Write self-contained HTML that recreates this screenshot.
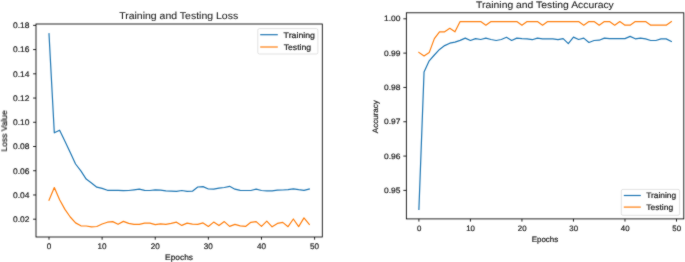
<!DOCTYPE html>
<html><head><meta charset="utf-8"><style>
html,body{margin:0;padding:0;background:#fff;}
body{width:685px;height:262px;overflow:hidden;}
svg{display:block;}
#w{width:685px;height:262px;}
text{font-family:"Liberation Sans", sans-serif;fill:#1a1a1a;stroke:#1a1a1a;stroke-width:0.2px;text-rendering:geometricPrecision;}
</style></head><body>
<div id="w">
<svg width="685" height="262" viewBox="0 0 685 262">
<defs><filter id="soft" color-interpolation-filters="sRGB" x="0" y="0" width="685" height="262" filterUnits="userSpaceOnUse"><feConvolveMatrix order="3" kernelMatrix="1 2 1 2 22 2 1 2 1" divisor="34" edgeMode="duplicate" preserveAlpha="false"/></filter></defs>
<g filter="url(#soft)">
<rect x="0" y="0" width="685" height="262" fill="#fff"/>

<polyline points="49.00,33.70 54.31,132.80 59.62,130.20 64.94,141.20 70.25,152.40 75.56,164.00 80.87,170.90 86.18,179.10 91.50,183.00 96.81,187.20 102.12,188.40 107.43,190.30 112.74,190.30 118.06,190.30 123.37,190.70 128.68,190.50 133.99,189.90 139.30,189.20 144.62,190.30 149.93,190.50 155.24,189.80 160.55,190.10 165.86,190.90 171.18,191.20 176.49,191.40 181.80,190.50 187.11,191.40 192.42,191.20 197.74,187.00 203.05,186.60 208.36,189.00 213.67,189.20 218.98,188.10 224.30,187.50 229.61,186.30 234.92,189.20 240.23,190.30 245.54,190.50 250.86,190.50 256.17,189.20 261.48,190.50 266.79,190.80 272.10,190.80 277.42,190.10 282.73,190.00 288.04,189.70 293.35,188.90 298.66,189.70 303.98,190.30 309.29,189.00" fill="none" stroke="#1f77b4" stroke-width="1.2" stroke-linejoin="round" stroke-linecap="square"/>
<polyline points="49.00,200.30 54.31,187.60 59.62,199.80 64.94,209.40 70.25,217.00 75.56,222.90 80.87,225.80 86.18,226.00 91.50,226.90 96.81,226.50 102.12,224.00 107.43,222.20 112.74,221.60 118.06,224.30 123.37,221.40 128.68,223.40 133.99,224.30 139.30,224.30 144.62,223.10 149.93,223.20 155.24,224.70 160.55,223.80 165.86,224.40 171.18,223.40 176.49,222.20 181.80,225.40 187.11,223.10 192.42,224.10 197.74,224.30 203.05,222.90 208.36,226.50 213.67,222.10 218.98,225.60 224.30,221.60 229.61,226.40 234.92,224.40 240.23,225.80 245.54,226.40 250.86,222.30 256.17,221.60 261.48,226.40 266.79,221.10 272.10,226.80 277.42,223.40 282.73,222.40 288.04,226.70 293.35,219.00 298.66,226.60 303.98,217.90 309.29,224.30" fill="none" stroke="#ff7f0e" stroke-width="1.2" stroke-linejoin="round" stroke-linecap="square"/>
<rect x="36.0" y="24.0" width="286.30" height="213.00" fill="none" stroke="#000" stroke-width="0.85"/>
<line x1="33.10" y1="219.20" x2="36.0" y2="219.20" stroke="#000" stroke-width="0.85"/>
<text x="13.0" y="222.10" font-size="8.1" textLength="16.4" lengthAdjust="spacingAndGlyphs">0.02</text>
<line x1="33.10" y1="194.97" x2="36.0" y2="194.97" stroke="#000" stroke-width="0.85"/>
<text x="13.0" y="197.87" font-size="8.1" textLength="16.4" lengthAdjust="spacingAndGlyphs">0.04</text>
<line x1="33.10" y1="170.74" x2="36.0" y2="170.74" stroke="#000" stroke-width="0.85"/>
<text x="13.0" y="173.64" font-size="8.1" textLength="16.4" lengthAdjust="spacingAndGlyphs">0.06</text>
<line x1="33.10" y1="146.51" x2="36.0" y2="146.51" stroke="#000" stroke-width="0.85"/>
<text x="13.0" y="149.41" font-size="8.1" textLength="16.4" lengthAdjust="spacingAndGlyphs">0.08</text>
<line x1="33.10" y1="122.28" x2="36.0" y2="122.28" stroke="#000" stroke-width="0.85"/>
<text x="13.0" y="125.18" font-size="8.1" textLength="16.4" lengthAdjust="spacingAndGlyphs">0.10</text>
<line x1="33.10" y1="98.05" x2="36.0" y2="98.05" stroke="#000" stroke-width="0.85"/>
<text x="13.0" y="100.95" font-size="8.1" textLength="16.4" lengthAdjust="spacingAndGlyphs">0.12</text>
<line x1="33.10" y1="73.82" x2="36.0" y2="73.82" stroke="#000" stroke-width="0.85"/>
<text x="13.0" y="76.72" font-size="8.1" textLength="16.4" lengthAdjust="spacingAndGlyphs">0.14</text>
<line x1="33.10" y1="49.59" x2="36.0" y2="49.59" stroke="#000" stroke-width="0.85"/>
<text x="13.0" y="52.49" font-size="8.1" textLength="16.4" lengthAdjust="spacingAndGlyphs">0.16</text>
<line x1="33.10" y1="25.36" x2="36.0" y2="25.36" stroke="#000" stroke-width="0.85"/>
<text x="13.0" y="28.26" font-size="8.1" textLength="16.4" lengthAdjust="spacingAndGlyphs">0.18</text>
<line x1="49.00" y1="237.0" x2="49.00" y2="239.70" stroke="#000" stroke-width="0.85"/>
<text x="49.00" y="249.1" font-size="8.1" text-anchor="middle">0</text>
<line x1="102.12" y1="237.0" x2="102.12" y2="239.70" stroke="#000" stroke-width="0.85"/>
<text x="102.12" y="249.1" font-size="8.1" text-anchor="middle">10</text>
<line x1="155.24" y1="237.0" x2="155.24" y2="239.70" stroke="#000" stroke-width="0.85"/>
<text x="155.24" y="249.1" font-size="8.1" text-anchor="middle">20</text>
<line x1="208.36" y1="237.0" x2="208.36" y2="239.70" stroke="#000" stroke-width="0.85"/>
<text x="208.36" y="249.1" font-size="8.1" text-anchor="middle">30</text>
<line x1="261.48" y1="237.0" x2="261.48" y2="239.70" stroke="#000" stroke-width="0.85"/>
<text x="261.48" y="249.1" font-size="8.1" text-anchor="middle">40</text>
<line x1="314.60" y1="237.0" x2="314.60" y2="239.70" stroke="#000" stroke-width="0.85"/>
<text x="314.60" y="249.1" font-size="8.1" text-anchor="middle">50</text>
<text x="119.2" y="19.1" style="stroke-width:0.08px" font-size="9.9" textLength="119" lengthAdjust="spacingAndGlyphs">Training and Testing Loss</text>
<text x="165.1" y="259.5" font-size="8.1" textLength="27.9" lengthAdjust="spacingAndGlyphs">Epochs</text>
<text transform="translate(7.0,151.5) rotate(-90)" x="0" y="0" font-size="8.4" textLength="41.3" lengthAdjust="spacingAndGlyphs">Loss Value</text>
<rect x="257.8" y="28.6" width="60.1" height="25.4" rx="1.6" ry="1.6" fill="#fff" fill-opacity="0.8" stroke="#cccccc" stroke-width="0.6"/>
<line x1="260.2" y1="34.7" x2="277.8" y2="34.7" stroke="#1f77b4" stroke-width="1.2"/>
<line x1="260.2" y1="47.0" x2="277.8" y2="47.0" stroke="#ff7f0e" stroke-width="1.2"/>
<text x="283.6" y="37.7" font-size="8.1" textLength="31.4" lengthAdjust="spacingAndGlyphs">Training</text>
<text x="283.7" y="49.6" font-size="8.1" textLength="27.5" lengthAdjust="spacingAndGlyphs">Testing</text>
<polyline points="418.90,209.30 424.05,72.10 429.20,60.80 434.36,55.00 439.51,49.40 444.66,45.60 449.81,43.20 454.96,42.10 460.12,40.40 465.27,38.10 470.42,40.50 475.57,38.60 480.72,39.50 485.88,38.10 491.03,39.50 496.18,40.50 501.33,39.50 506.48,37.30 511.64,40.50 516.79,38.10 521.94,38.60 527.09,38.90 532.24,39.70 537.40,38.10 542.55,38.90 547.70,38.90 552.85,38.90 558.00,39.70 563.16,38.60 568.31,43.60 573.46,37.10 578.61,39.50 583.76,38.10 588.92,42.50 594.07,40.50 599.22,40.20 604.37,38.10 609.52,38.60 614.68,38.60 619.83,38.60 624.98,38.60 630.13,36.40 635.28,38.80 640.44,38.10 645.59,38.90 650.74,40.50 655.89,40.50 661.04,38.90 666.20,38.90 671.35,41.50" fill="none" stroke="#1f77b4" stroke-width="1.2" stroke-linejoin="round" stroke-linecap="square"/>
<polyline points="418.90,52.40 424.05,55.90 429.20,52.60 434.36,38.60 439.51,31.80 444.66,31.80 449.81,28.30 454.96,31.80 460.12,21.60 465.27,21.60 470.42,21.60 475.57,21.60 480.72,21.60 485.88,25.20 491.03,21.60 496.18,21.60 501.33,21.60 506.48,21.60 511.64,21.60 516.79,21.60 521.94,25.20 527.09,21.60 532.24,21.60 537.40,21.60 542.55,25.20 547.70,21.60 552.85,21.60 558.00,21.60 563.16,21.60 568.31,21.60 573.46,21.60 578.61,21.60 583.76,25.20 588.92,21.60 594.07,21.60 599.22,25.20 604.37,21.60 609.52,21.60 614.68,25.20 619.83,21.60 624.98,25.20 630.13,25.20 635.28,21.60 640.44,21.60 645.59,21.60 650.74,25.20 655.89,25.20 661.04,25.20 666.20,25.20 671.35,21.60" fill="none" stroke="#ff7f0e" stroke-width="1.2" stroke-linejoin="round" stroke-linecap="square"/>
<rect x="406.35" y="12.8" width="277.45" height="206.10" fill="none" stroke="#000" stroke-width="0.85"/>
<line x1="403.35" y1="190.40" x2="406.35" y2="190.40" stroke="#000" stroke-width="0.85"/>
<text x="384.0" y="193.00" font-size="7.85" textLength="16.4" lengthAdjust="spacingAndGlyphs">0.95</text>
<line x1="403.35" y1="156.08" x2="406.35" y2="156.08" stroke="#000" stroke-width="0.85"/>
<text x="384.0" y="158.68" font-size="7.85" textLength="16.4" lengthAdjust="spacingAndGlyphs">0.96</text>
<line x1="403.35" y1="121.76" x2="406.35" y2="121.76" stroke="#000" stroke-width="0.85"/>
<text x="384.0" y="124.36" font-size="7.85" textLength="16.4" lengthAdjust="spacingAndGlyphs">0.97</text>
<line x1="403.35" y1="87.44" x2="406.35" y2="87.44" stroke="#000" stroke-width="0.85"/>
<text x="384.0" y="90.04" font-size="7.85" textLength="16.4" lengthAdjust="spacingAndGlyphs">0.98</text>
<line x1="403.35" y1="53.12" x2="406.35" y2="53.12" stroke="#000" stroke-width="0.85"/>
<text x="384.0" y="55.72" font-size="7.85" textLength="16.4" lengthAdjust="spacingAndGlyphs">0.99</text>
<line x1="403.35" y1="18.80" x2="406.35" y2="18.80" stroke="#000" stroke-width="0.85"/>
<text x="384.0" y="21.40" font-size="7.85" textLength="16.4" lengthAdjust="spacingAndGlyphs">1.00</text>
<line x1="418.90" y1="218.9" x2="418.90" y2="221.60" stroke="#000" stroke-width="0.85"/>
<text x="419.10" y="230.7" font-size="7.85" text-anchor="middle">0</text>
<line x1="470.42" y1="218.9" x2="470.42" y2="221.60" stroke="#000" stroke-width="0.85"/>
<text x="470.62" y="230.7" font-size="7.85" text-anchor="middle">10</text>
<line x1="521.94" y1="218.9" x2="521.94" y2="221.60" stroke="#000" stroke-width="0.85"/>
<text x="522.14" y="230.7" font-size="7.85" text-anchor="middle">20</text>
<line x1="573.46" y1="218.9" x2="573.46" y2="221.60" stroke="#000" stroke-width="0.85"/>
<text x="573.66" y="230.7" font-size="7.85" text-anchor="middle">30</text>
<line x1="624.98" y1="218.9" x2="624.98" y2="221.60" stroke="#000" stroke-width="0.85"/>
<text x="625.18" y="230.7" font-size="7.85" text-anchor="middle">40</text>
<line x1="676.50" y1="218.9" x2="676.50" y2="221.60" stroke="#000" stroke-width="0.85"/>
<text x="676.70" y="230.7" font-size="7.85" text-anchor="middle">50</text>
<text x="476.1" y="7.9" style="stroke-width:0.08px" font-size="9.6" textLength="137.7" lengthAdjust="spacingAndGlyphs">Training and Testing Accuracy</text>
<text x="531.7" y="241.7" font-size="7.85" textLength="26.5" lengthAdjust="spacingAndGlyphs">Epochs</text>
<text transform="translate(377.7,133.2) rotate(-90)" x="0" y="0" font-size="7.85" textLength="33" lengthAdjust="spacingAndGlyphs">Accuracy</text>
<rect x="621.3" y="189.4" width="58.3" height="25.9" rx="1.6" ry="1.6" fill="#fff" fill-opacity="0.8" stroke="#cccccc" stroke-width="0.6"/>
<line x1="623.8" y1="195.5" x2="640.8" y2="195.5" stroke="#1f77b4" stroke-width="1.2"/>
<line x1="623.8" y1="207.1" x2="640.8" y2="207.1" stroke="#ff7f0e" stroke-width="1.2"/>
<text x="646.2" y="198.3" font-size="8.0" textLength="30.0" lengthAdjust="spacingAndGlyphs">Training</text>
<text x="646.2" y="210.0" font-size="8.0" textLength="27.0" lengthAdjust="spacingAndGlyphs">Testing</text>
</g>
</svg>
</div>
</body></html>
